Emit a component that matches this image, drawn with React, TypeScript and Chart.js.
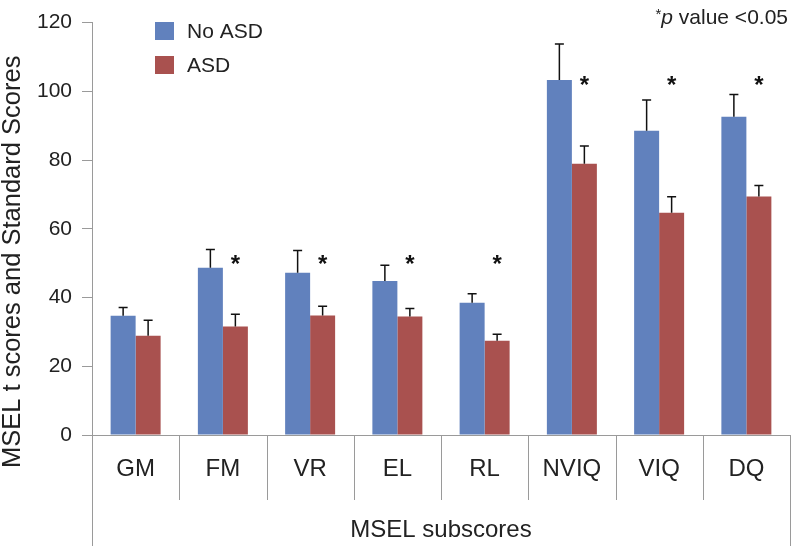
import React, { useEffect, useRef } from "react";
import { Chart, registerables } from "chart.js";

Chart.register(...registerables);

const categories = ["GM", "FM", "VR", "EL", "RL", "NVIQ", "VIQ", "DQ"];
const noAsdMeans = [34.7, 48.7, 47.2, 44.8, 38.5, 103.3, 88.5, 92.6];
const noAsdErrors = [2.4, 5.3, 6.5, 4.6, 2.6, 10.5, 9.0, 6.5];
const asdMeans = [28.9, 31.6, 34.8, 34.5, 27.4, 78.9, 64.7, 69.4];
const asdErrors = [4.5, 3.5, 2.7, 2.3, 1.9, 5.2, 4.6, 3.2];
const significanceLevels: (number | null)[] = [null, 50, 50, 50, 50, 102, 102, 102];
const yTickValues = [0, 20, 40, 60, 80, 100, 120];

const FONT = "'Liberation Sans', Arial, sans-serif";
const TEXT = "#222";
const AXIS = "#9a9a9a";
const BLUE = "#6181BD";
const RED = "#A9514F";

const errorBarPlugin = {
  id: "errorBars",
  afterDatasetsDraw(chart: any) {
    const { ctx } = chart;
    const y = chart.scales.y;
    ctx.save();
    ctx.strokeStyle = "#111";
    ctx.lineWidth = 1.5;
    chart.data.datasets.forEach((ds: any, di: number) => {
      const meta = chart.getDatasetMeta(di);
      meta.data.forEach((bar: any, j: number) => {
        const top = y.getPixelForValue(ds.data[j] + ds.errors[j]);
        ctx.beginPath();
        ctx.moveTo(bar.x, bar.y);
        ctx.lineTo(bar.x, top);
        ctx.moveTo(bar.x - 4.5, top);
        ctx.lineTo(bar.x + 4.5, top);
        ctx.stroke();
      });
    });
    // significance asterisks above ASD bars
    const asdMeta = chart.getDatasetMeta(1);
    ctx.fillStyle = "#111";
    ctx.font = `bold 24px ${FONT}`;
    ctx.textAlign = "center";
    ctx.textBaseline = "middle";
    significanceLevels.forEach((lvl, j) => {
      if (lvl == null) return;
      const bar = asdMeta.data[j];
      ctx.fillText("*", bar.x, y.getPixelForValue(lvl) + 2);
    });
    ctx.restore();
  },
};

const framePlugin = {
  id: "frame",
  afterDraw(chart: any) {
    const { ctx, chartArea } = chart;
    const x = chart.scales.x;
    const y = chart.scales.y;
    ctx.save();
    ctx.strokeStyle = AXIS;
    ctx.lineWidth = 1;
    const bottom = chartArea.bottom;
    for (let i = 0; i <= categories.length; i++) {
      const px = Math.round(x.getPixelForValue(i - 0.5)) + 0.5;
      const outer = i === 0 || i === categories.length;
      ctx.beginPath();
      ctx.moveTo(px, bottom);
      ctx.lineTo(px, outer ? chart.height : bottom + 65);
      ctx.stroke();
    }
    // y axis title
    ctx.fillStyle = TEXT;
    ctx.font = `25.5px ${FONT}`;
    ctx.textAlign = "center";
    ctx.textBaseline = "middle";
    ctx.translate(13, (y.top + y.bottom) / 2 + 33);
    ctx.rotate(-Math.PI / 2);
    ctx.fillText("MSEL t scores and Standard Scores", 0, 0);
    ctx.restore();

    // legend
    ctx.save();
    ctx.font = `21px ${FONT}`;
    ctx.textBaseline = "middle";
    ctx.textAlign = "left";
    chart.data.datasets.forEach((ds: any, i: number) => {
      const cy = 31 + i * 34;
      ctx.fillStyle = ds.backgroundColor;
      ctx.fillRect(155, cy - 9, 19, 18);
      ctx.fillStyle = TEXT;
      ctx.fillText(ds.label, 187, cy + 1);
    });

    // p value note
    ctx.textBaseline = "alphabetic";
    ctx.textAlign = "left";
    const right = 788;
    const base = 24;
    ctx.font = `21px ${FONT}`;
    const rest = " value <0.05";
    const wRest = ctx.measureText(rest).width;
    ctx.font = `italic 21px ${FONT}`;
    const wP = ctx.measureText("p").width;
    ctx.font = `15px ${FONT}`;
    const wStar = ctx.measureText("*").width;
    let xx = right - wRest - wP - wStar;
    ctx.fillText("*", xx, base - 5);
    xx += wStar;
    ctx.font = `italic 21px ${FONT}`;
    ctx.fillText("p", xx, base);
    xx += wP;
    ctx.font = `21px ${FONT}`;
    ctx.fillText(rest, xx, base);
    ctx.restore();
  },
};

export default function App() {
  const canvasRef = useRef<HTMLCanvasElement | null>(null);

  useEffect(() => {
    document.body.style.margin = "0";
    const canvas = canvasRef.current;
    if (!canvas) return;
    const chart = new Chart(canvas, {
      type: "bar",
      data: {
        labels: categories,
        datasets: [
          {
            label: "No ASD",
            data: noAsdMeans,
            errors: noAsdErrors,
            backgroundColor: BLUE,
            borderWidth: 0,
            barPercentage: 1,
            categoryPercentage: 0.573,
          } as any,
          {
            label: "ASD",
            data: asdMeans,
            errors: asdErrors,
            backgroundColor: RED,
            borderWidth: 0,
            barPercentage: 1,
            categoryPercentage: 0.573,
          } as any,
        ],
      },
      options: {
        animation: false,
        responsive: true,
        maintainAspectRatio: false,
        layout: { padding: { top: 20, right: 7, left: 0, bottom: 0 } },
        plugins: {
          legend: { display: false },
          tooltip: { enabled: false },
          title: { display: false },
        },
        scales: {
          x: {
            type: "category",
            grid: {
              display: true,
              drawOnChartArea: false,
              drawTicks: false,
              color: "rgba(0,0,0,0)",
            },
            border: { display: true, color: AXIS, width: 1 },
            ticks: {
              color: TEXT,
              font: { family: FONT, size: 24 },
              padding: 20,
              maxRotation: 0,
              autoSkip: false,
            },
            title: {
              display: true,
              text: "MSEL subscores",
              color: TEXT,
              font: { family: FONT, size: 24, lineHeight: 1.2 },
              padding: { top: 0, bottom: 1 },
            },
            afterFit(scale: any) {
              scale.height = 111;
            },
          },
          y: {
            type: "linear",
            min: 0,
            max: 120,
            afterBuildTicks(scale: any) {
              scale.ticks = yTickValues.map((v) => ({ value: v }));
            },
            grid: {
              drawOnChartArea: false,
              drawTicks: true,
              tickLength: 10,
              color: AXIS,
            },
            border: { display: true, color: AXIS, width: 1 },
            ticks: {
              color: TEXT,
              font: { family: FONT, size: 21 },
              padding: 10,
            },
            afterFit(scale: any) {
              scale.width = 92;
            },
          },
        },
      },
      plugins: [errorBarPlugin, framePlugin],
    });
    return () => chart.destroy();
  }, []);

  return (
    <div style={{ width: 797, height: 546, position: "relative", background: "#fff" }}>
      <canvas ref={canvasRef} />
    </div>
  );
}
